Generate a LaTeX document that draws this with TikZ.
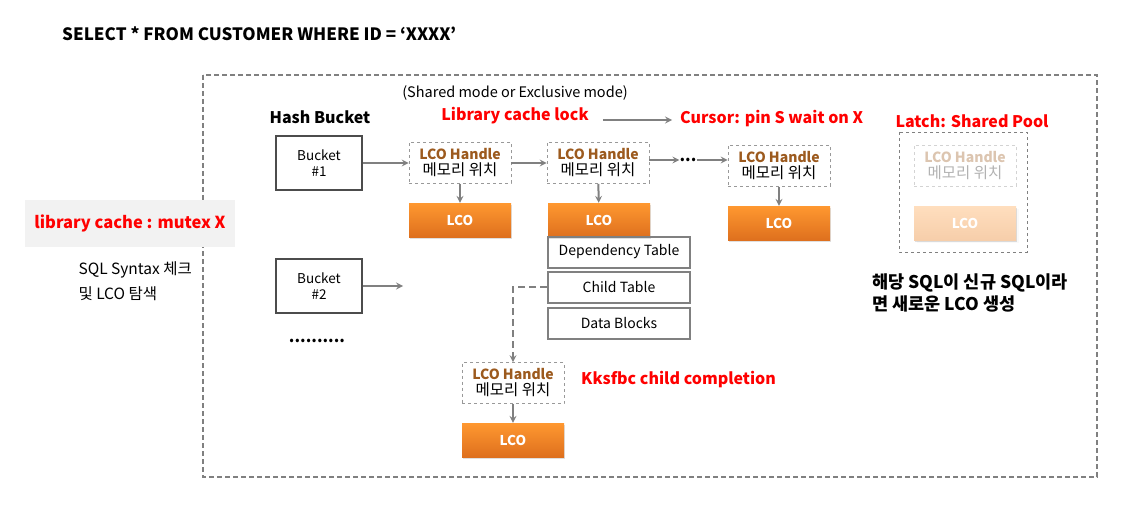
\documentclass[tikz,border=0pt]{standalone}
\usepackage{fontspec}
\setmainfont{Noto Sans CJK KR}
\usetikzlibrary{arrows,shadows,positioning}
\definecolor{lcobrown}{RGB}{156,90,30}
\definecolor{lcotop}{RGB}{255,152,48}
\definecolor{lcobot}{RGB}{222,112,30}
\definecolor{fadetop}{RGB}{255,222,190}
\definecolor{fadebot}{RGB}{246,206,170}
\definecolor{linegray}{RGB}{128,128,128}
\tikzstyle{bucket}=[rectangle,draw=black!70,line width=1.5pt,minimum width=86pt,minimum height=54pt,inner sep=0,align=center,font=\fontsize{13.5}{16}\selectfont]
\tikzstyle{handle}=[rectangle,draw=linegray!80,dashed,line width=0.8pt,minimum width=102pt,minimum height=41pt,inner sep=0,align=center,font=\fontsize{14}{16}\selectfont]
\tikzstyle{lco}=[rectangle,top color=lcotop,bottom color=lcobot,minimum width=102pt,minimum height=34pt,inner sep=0,text=white,font=\bfseries\fontsize{13.5}{16}\selectfont,drop shadow={shadow xshift=1pt,shadow yshift=-1.5pt,opacity=0.25}]
\tikzstyle{tbl}=[rectangle,draw=linegray,line width=2pt,minimum width=142pt,minimum height=31pt,inner sep=0,font=\fontsize{14}{16}\selectfont]
\tikzstyle{arrow}=[line width=2pt,linegray,->,>=stealth]
\tikzstyle{redlabel}=[text=red,font=\bfseries\fontsize{16}{18}\selectfont,inner sep=0]
\tikzstyle{blacklabel}=[font=\bfseries\fontsize{16}{18}\selectfont,inner sep=0]
\newcommand{\lcohandle}{{\bfseries\color{lcobrown}LCO Handle}\\{\fontsize{15.5}{17}\selectfont 메모리 위치}}
\begin{document}
\begin{tikzpicture}[x=1pt,y=-1pt]
\useasboundingbox (0,0) rectangle (1126,505);

% query and outer frame
\node[blacklabel,anchor=west,font=\bfseries\fontsize{17}{19}\selectfont] (query) at (62,34) {SELECT * FROM CUSTOMER WHERE ID = ‘XXXX’};
\draw[linegray,line width=1.8pt,dash pattern=on 5pt off 3pt] (203,75) rectangle (1097,477);

% left side
\node[fill=black!5,minimum width=210pt,minimum height=47pt,text=red,font=\bfseries\fontsize{16.5}{18}\selectfont] (mutex) at (130,223) {library cache : mutex X};
\node[align=left,font=\fontsize{15.5}{25}\selectfont,anchor=west] (syntax) at (75,281) {SQL Syntax 체크\\및 LCO 탐색};

% labels
\node[blacklabel] (hash) at (320,117) {Hash Bucket};
\node[font=\fontsize{14.5}{16}\selectfont] (mode) at (515,93) {(Shared mode or Exclusive mode)};
\node[redlabel] (lock) at (515,116) {Library cache lock};
\node[redlabel,anchor=west] (cursor) at (680,119) {Cursor: pin S wait on X};
\node[redlabel] (latch) at (972,121) {Latch: Shared Pool};
\draw[arrow,shorten >=8pt] (lock.east)++(14,4) coordinate (lockend) -- (cursor.west|-lockend);

% buckets
\node[bucket] (b1) at (319,163) {Bucket\\\#1};
\node[bucket] (b2) at (319,286) {Bucket\\\#2};
\coordinate (b2end) at (403,286);
\node[blacklabel] (bdots) at (317,341) {..........};

% handles and LCOs
\node[handle] (h1) at (460,163) {\lcohandle};
\node[lco] (l1) at (460,220) {LCO};
\node[handle] (h2) at (598,163) {\lcohandle};
\node[lco] (l2) at (599,220) {LCO};
\node[blacklabel] (hdots) at (688,160) {...};
\node[handle] (h3) at (779,166) {\lcohandle};
\node[lco] (l3) at (779,223) {LCO};

% faded new LCO
\draw[linegray,dashed,line width=0.8pt] (899,132) rectangle (1027,252);
\node[handle,draw=linegray!35,text=black!30] (h5) at (965,166) {{\bfseries\color{lcobrown!35}LCO Handle}\\{\fontsize{15.5}{17}\selectfont 메모리 위치}};
\node[lco,top color=fadetop,bottom color=fadebot,drop shadow={opacity=0.05}] (l5) at (965,223) {LCO};
\node[blacklabel,align=left,font=\bfseries\fontsize{17.5}{22}\selectfont,anchor=west] (newlco) at (872,293) {해당 SQL이 신규 SQL이라\\면 새로운 LCO 생성};

% tables
\node[tbl] (dep) at (619,252) {Dependency Table};
\node[tbl] (child) at (619,287) {Child Table};
\node[tbl] (data) at (619,323) {Data Blocks};

% child LCO
\node[handle] (h4) at (513,383) {\lcohandle};
\node[lco] (l4) at (513,440) {LCO};
\node[redlabel,anchor=west] (kks) at (581,380) {Kksfbc child completion};

% connectors
\draw[arrow] (b1) -- (h1);
\draw[arrow] (h1) -- (h2);
\draw[arrow] (h2.east|-hdots) -- (hdots);
\draw[arrow] (hdots) -- (h3.west|-hdots);
\draw[arrow] (b2) -- (b2end);
\draw[arrow] (h1) -- (l1);
\draw[arrow] (h2) -- (l2);
\draw[arrow] (h3) -- (l3);
\draw[arrow] (h4) -- (l4);
\draw[arrow,dash pattern=on 7pt off 4pt] (child.west) -| (h4.north);
\end{tikzpicture}
\end{document}
